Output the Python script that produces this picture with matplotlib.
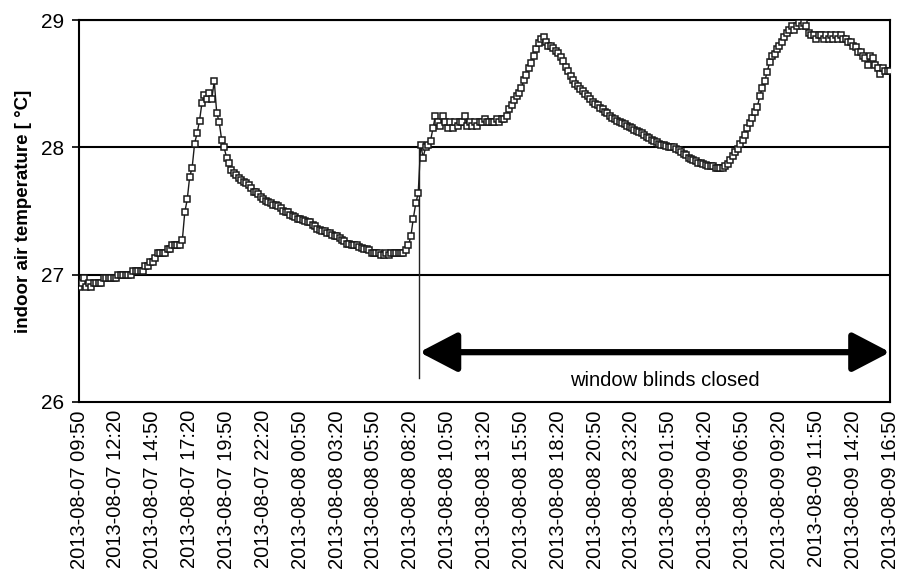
import numpy as np
import pandas as pd
import matplotlib
matplotlib.use('Agg')
import matplotlib.pyplot as plt

plt.rcParams['font.family'] = ['Liberation Sans', 'DejaVu Sans']

# indoor air temperature, logged every 10 min from 2013-08-07 09:50
temp = [
    26.90, 26.93, 26.97, 26.90, 26.93, 26.90, 26.93, 26.93, 26.93, 26.93,
    26.97, 26.97, 26.97, 26.97, 26.97, 26.97, 27.00, 27.00, 27.00, 27.00,
    27.00, 27.00, 27.03, 27.03, 27.03, 27.03, 27.03, 27.07, 27.07, 27.10,
    27.10, 27.13, 27.17, 27.17, 27.17, 27.17, 27.20, 27.20, 27.23, 27.23,
    27.23, 27.23, 27.27, 27.49, 27.59, 27.77, 27.84, 28.03, 28.11, 28.21,
    28.35, 28.41, 28.38, 28.43, 28.38, 28.52, 28.27, 28.20, 28.06, 28.00,
    27.92, 27.88, 27.82, 27.80, 27.78, 27.76, 27.74, 27.73, 27.72, 27.70,
    27.68, 27.65, 27.65, 27.63, 27.61, 27.59, 27.58, 27.57, 27.56, 27.55,
    27.55, 27.54, 27.52, 27.50, 27.49, 27.49, 27.47, 27.46, 27.45, 27.44,
    27.44, 27.43, 27.42, 27.41, 27.41, 27.39, 27.38, 27.36, 27.35, 27.34,
    27.34, 27.33, 27.33, 27.31, 27.30, 27.30, 27.29, 27.27, 27.26, 27.24,
    27.24, 27.23, 27.23, 27.23, 27.22, 27.21, 27.20, 27.20, 27.19, 27.17,
    27.17, 27.17, 27.17, 27.15, 27.15, 27.17, 27.15, 27.17, 27.17, 27.17,
    27.17, 27.17, 27.17, 27.19, 27.23, 27.30, 27.44, 27.56, 27.64, 28.02,
    27.92, 28.00, 28.02, 28.05, 28.15, 28.25, 28.20, 28.17, 28.25, 28.20,
    28.15, 28.20, 28.15, 28.20, 28.17, 28.20, 28.20, 28.25, 28.17, 28.20,
    28.17, 28.20, 28.17, 28.20, 28.20, 28.22, 28.20, 28.20, 28.20, 28.20,
    28.22, 28.20, 28.22, 28.22, 28.25, 28.30, 28.33, 28.37, 28.40, 28.43,
    28.47, 28.53, 28.57, 28.62, 28.66, 28.72, 28.77, 28.82, 28.85, 28.87,
    28.83, 28.80, 28.80, 28.78, 28.76, 28.74, 28.71, 28.68, 28.63, 28.60,
    28.56, 28.53, 28.50, 28.48, 28.46, 28.44, 28.42, 28.40, 28.38, 28.36,
    28.34, 28.33, 28.31, 28.30, 28.28, 28.27, 28.25, 28.23, 28.22, 28.21,
    28.20, 28.19, 28.18, 28.17, 28.16, 28.15, 28.14, 28.13, 28.12, 28.11,
    28.10, 28.08, 28.07, 28.06, 28.05, 28.04, 28.03, 28.02, 28.02, 28.01,
    28.00, 28.00, 28.00, 27.99, 27.98, 27.96, 27.95, 27.94, 27.92, 27.91,
    27.90, 27.89, 27.88, 27.88, 27.87, 27.86, 27.85, 27.85, 27.85, 27.84,
    27.84, 27.84, 27.84, 27.85, 27.87, 27.90, 27.93, 27.96, 27.99, 28.03,
    28.06, 28.10, 28.15, 28.19, 28.23, 28.28, 28.32, 28.40, 28.47, 28.52,
    28.59, 28.67, 28.72, 28.73, 28.77, 28.80, 28.83, 28.87, 28.90, 28.92,
    28.95, 28.92, 28.95, 28.98, 28.95, 28.98, 28.95, 28.90, 28.88, 28.88,
    28.85, 28.88, 28.88, 28.85, 28.88, 28.85, 28.88, 28.85, 28.88, 28.85,
    28.88, 28.85, 28.85, 28.83, 28.83, 28.80, 28.79, 28.75, 28.75, 28.72,
    28.70, 28.65, 28.72, 28.70, 28.65, 28.62, 28.58, 28.62, 28.60, 28.60,
    28.60,
]
times = pd.date_range('2013-08-07 09:50', periods=len(temp), freq='10min')

tick_labels = [
    '2013-08-07 09:50', '2013-08-07 12:20', '2013-08-07 14:50', '2013-08-07 17:20',
    '2013-08-07 19:50', '2013-08-07 22:20', '2013-08-08 00:50', '2013-08-08 03:20',
    '2013-08-08 05:50', '2013-08-08 08:20', '2013-08-08 10:50', '2013-08-08 13:20',
    '2013-08-08 15:50', '2013-08-08 18:20', '2013-08-08 20:50', '2013-08-08 23:20',
    '2013-08-09 01:50', '2013-08-09 04:20', '2013-08-09 06:50', '2013-08-09 09:20',
    '2013-08-09 11:50', '2013-08-09 14:20', '2013-08-09 16:50',
]
tick_times = pd.to_datetime(tick_labels)

blinds_start = pd.Timestamp('2013-08-08 08:55')
blinds_end = pd.Timestamp('2013-08-09 16:50')

fig = plt.figure(figsize=(8.99, 5.74), dpi=100)
ax = fig.add_axes([0.088, 0.3, 0.902, 0.665])

ax.plot(times, temp, color='#1a1a1a', lw=1.0, marker='s', ms=5,
        mfc='white', mec='#1a1a1a', mew=1.1, zorder=3)

ax.set_ylim(26, 29)
ax.set_yticks([26, 27, 28, 29])
ax.set_xlim(times[0], times[-1])
ax.set_xticks(tick_times)
ax.set_xticklabels(tick_labels, rotation=90, fontsize=14.5)
ax.tick_params(axis='x', length=0, pad=6)
ax.tick_params(axis='y', labelsize=15, length=5, width=1.2, direction='out', pad=6)
for y in [27, 28, 29]:
    ax.axhline(y, color='black', lw=1.5, zorder=1)
for s in ax.spines.values():
    s.set_linewidth(1.5)
ax.set_ylabel('indoor air temperature [ °C]', fontsize=13.5, fontweight='bold',
              labelpad=6)

# window blinds annotation
ax.plot([blinds_start, blinds_start], [26.19, 28.0], color='#222222', lw=1.0, zorder=2)
ax.annotate('', xy=(blinds_end, 26.39), xytext=(blinds_start, 26.39),
            arrowprops=dict(arrowstyle='<|-|>,head_length=1.15,head_width=0.6',
                            lw=4.5, color='black', mutation_scale=20,
                            shrinkA=0, shrinkB=0))
ax.text(pd.Timestamp('2013-08-09 01:35'), 26.17, 'window blinds closed',
        ha='center', va='center', fontsize=14.5)

plt.savefig('out.png', dpi=100)
